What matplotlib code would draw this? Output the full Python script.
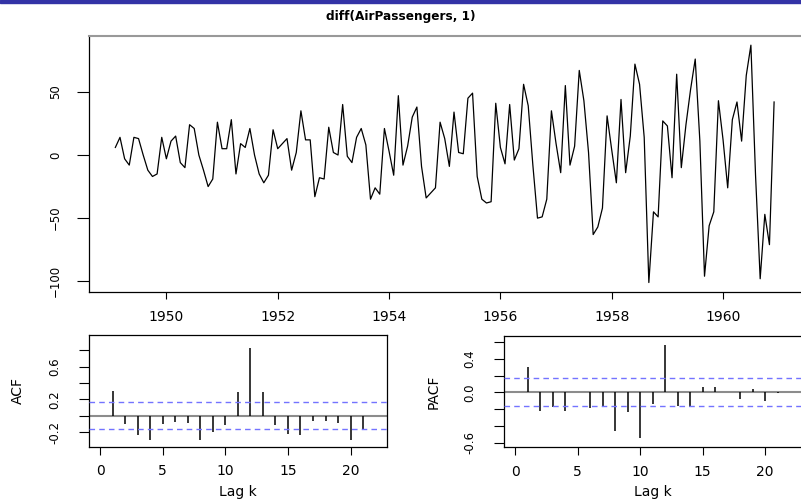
import numpy as np
import matplotlib
matplotlib.use("Agg")
import matplotlib.pyplot as plt
from matplotlib.patches import Rectangle

plt.rcParams["font.family"] = ["DejaVu Sans"]

# first differences of the monthly AirPassengers series, Feb 1949 .. Dec 1960
diff_passengers = [
    6, 14, -3, -8, 14, 13, 0, -12, -17, -15, 14,
    -3, 11, 15, -6, -10, 24, 21, 0, -12, -25, -19, 26,
    5, 5, 28, -15, 9, 6, 21, 0, -15, -22, -16, 20,
    5, 9, 13, -12, 2, 35, 12, 12, -33, -18, -19, 22,
    2, 0, 40, -1, -6, 14, 21, 8, -35, -26, -31, 21,
    3, -16, 47, -8, 7, 30, 38, -9, -34, -30, -26, 26,
    13, -9, 34, 2, 1, 45, 49, -17, -35, -38, -37, 41,
    6, -7, 40, -4, 5, 56, 39, -8, -50, -49, -35, 35,
    9, -14, 55, -8, 7, 67, 43, 2, -63, -57, -42, 31,
    4, -22, 44, -14, 15, 72, 56, 14, -101, -45, -49, 27,
    23, -18, 64, -10, 24, 52, 76, 11, -96, -56, -45, 43,
    12, -26, 28, 42, 11, 63, 87, -16, -98, -47, -71, 42,
]
start_year = 1949 + 1 / 12

# sample ACF / PACF, lags 1..21
lags = list(range(1, 22))
acf_vals = [0.30, -0.10, -0.24, -0.30, -0.10, -0.08, -0.09, -0.30, -0.20, -0.11,
            0.29, 0.83, 0.29, -0.11, -0.22, -0.23, -0.07, -0.07, -0.09, -0.30, -0.17]
pacf_vals = [0.30, -0.22, -0.17, -0.22, 0.01, -0.19, -0.16, -0.46, -0.24, -0.55,
             -0.14, 0.57, -0.16, -0.18, 0.06, 0.06, 0.01, -0.08, 0.04, -0.10, -0.01]
conf = 0.167

W, H = 801, 499
fig = plt.figure(figsize=(W / 100, H / 100), dpi=100)

# thin blue strip along the top edge
fig.patches.append(Rectangle((0, 1 - 2.5 / H), 1, 2.5 / H, transform=fig.transFigure,
                             color="#3333a6", zorder=10))

fig.text(0.5, 1 - 20 / H, "diff(AirPassengers, 1)", ha="center", va="baseline",
         fontsize=8.75, fontweight="bold")


def px_axes(l, t, r, b):
    return fig.add_axes([l / W, 1 - b / H, (r - l) / W, (b - t) / H])


def rot_ylabels(ax):
    for lbl in ax.get_yticklabels():
        lbl.set_rotation(90)
        lbl.set_va("center")


# ---- series panel
ax = px_axes(89, 35.7, 801, 292)
t = start_year + np.arange(len(diff_passengers)) / 12
ax.plot(t, diff_passengers, color="black", lw=0.9)
ax.set_xlim(1948.61, 1961.40)
ax.set_ylim(-108.5, 94.5)
ax.set_xticks([1950, 1952, 1954, 1956, 1958, 1960])
ax.set_yticks([-100, -50, 0, 50])
ax.tick_params(axis="x", length=5, width=0.8, pad=8, labelsize=10)
ax.tick_params(axis="y", length=8.6, width=0.8, pad=11, labelsize=8.5)
rot_ylabels(ax)
ax.spines["right"].set_visible(False)
ax.spines["top"].set_color("#999999")
ax.spines["top"].set_linewidth(1.5)
for s in ("left", "bottom"):
    ax.spines[s].set_linewidth(0.9)


def corr_panel(box, vals, ylim, yticks, shown, name):
    a = px_axes(*box)
    a.axhline(0, color="#8c8c8c", lw=1.5, zorder=1)
    a.vlines(lags, 0, vals, color="black", lw=1.1, zorder=2)
    for c in (conf, -conf):
        a.axhline(c, color="#7373ff", lw=1.0, dashes=(4, 3), zorder=3)
    a.set_xlim(-0.88, 22.88)
    a.set_ylim(*ylim)
    a.set_xticks([0, 5, 10, 15, 20])
    a.set_yticks(yticks)
    a.set_yticklabels([f"{v:.1f}" if v in shown else "" for v in yticks])
    a.tick_params(axis="x", length=5.8, width=0.8, pad=7, labelsize=10)
    a.tick_params(axis="y", length=7.5, width=0.8, pad=12.5, labelsize=8.5)
    rot_ylabels(a)
    a.set_xlabel("Lag k", fontsize=10, va="baseline")
    a.xaxis.set_label_coords(0.5, -(496 - box[3]) / (box[3] - box[1]))
    a.set_ylabel(name, fontsize=10)
    a.yaxis.set_label_coords(-0.215, 0.5)
    for s in a.spines.values():
        s.set_linewidth(0.9)
    return a


corr_panel((89, 335, 386.7, 446.7), acf_vals, (-0.379, 0.988),
           [-0.2, 0.0, 0.2, 0.4, 0.6, 0.8], (-0.2, 0.2, 0.6), "ACF")
pacf_ax = corr_panel((504.3, 336, 801, 447), pacf_vals, (-0.652, 0.672),
                     [-0.6, -0.4, -0.2, 0.0, 0.2, 0.4, 0.6], (-0.6, 0.0, 0.4), "PACF")
pacf_ax.spines["right"].set_visible(False)

fig.savefig("out.png", dpi=100)
